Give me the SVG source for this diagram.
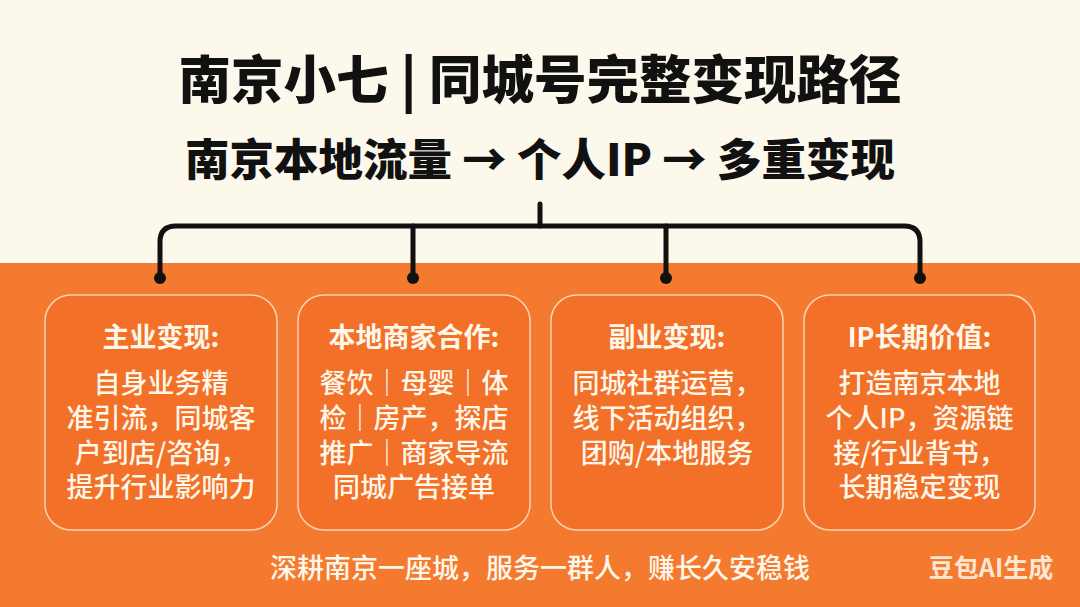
<svg xmlns="http://www.w3.org/2000/svg" width="1080" height="607" viewBox="0 0 1080 607">
<style>
.t{font-family:"Noto Sans CJK SC","Noto Sans",sans-serif;text-anchor:middle}
.title{font-size:52.5px;font-weight:900;fill:#111}
.sub{font-size:44.5px;font-weight:900;fill:#111}
.box{fill:#f27028;stroke:#fbd3b0;stroke-width:1.5}
.h{font-size:27px;font-weight:700;fill:#fff7ea}
.b{font-size:27px;font-weight:500;fill:#fff7ea}
.line{fill:none;stroke:#111;stroke-width:5;stroke-linecap:round;stroke-linejoin:round}
.dot{fill:#111}
</style>
<rect x="0" y="0" width="1080" height="263" fill="#fcf8ec"/>
<rect x="0" y="263" width="1080" height="344" fill="#f47a30"/>
<g id="title">
<text class="t title" x="540" y="99">南京小七 | 同城号完整变现路径</text>
<text class="t sub" x="540" y="176">南京本地流量 → 个人IP → 多重变现</text>
</g>
<g id="connectors">
<path class="line" d="M540 204 V226"/>
<path class="line" d="M160 278 V242 Q160 226 176 226 H904 Q920 226 920 242 V278"/>
<path class="line" d="M413 226 V278"/>
<path class="line" d="M666 226 V278"/>
<circle class="dot" cx="160" cy="278" r="6"/>
<circle class="dot" cx="413" cy="278" r="6"/>
<circle class="dot" cx="666" cy="278" r="6"/>
<circle class="dot" cx="920" cy="278" r="6"/>
</g>
<g id="node1">
<rect class="box" x="45" y="295" width="232" height="235" rx="26"/>
<text class="t h" x="161" y="347">主业变现:</text>
<text class="t b" x="161" y="393">自身业务精</text>
<text class="t b" x="161" y="428">准引流，同城客</text>
<text class="t b" x="161" y="463">户到店/咨询，</text>
<text class="t b" x="161" y="497">提升行业影响力</text>
</g>
<g id="node2">
<rect class="box" x="298" y="295" width="232" height="235" rx="26"/>
<text class="t h" x="414" y="347">本地商家合作:</text>
<text class="t b" x="414" y="393">餐饮｜母婴｜体</text>
<text class="t b" x="414" y="428">检｜房产，探店</text>
<text class="t b" x="414" y="463">推广｜商家导流</text>
<text class="t b" x="414" y="497">同城广告接单</text>
</g>
<g id="node3">
<rect class="box" x="551" y="295" width="232" height="235" rx="26"/>
<text class="t h" x="667" y="347">副业变现:</text>
<text class="t b" x="667" y="393">同城社群运营，</text>
<text class="t b" x="667" y="428">线下活动组织，</text>
<text class="t b" x="667" y="463">团购/本地服务</text>
</g>
<g id="node4">
<rect class="box" x="804" y="295" width="231" height="235" rx="26"/>
<text class="t h" x="919.5" y="347">IP长期价值:</text>
<text class="t b" x="919.5" y="393">打造南京本地</text>
<text class="t b" x="919.5" y="428">个人IP，资源链</text>
<text class="t b" x="919.5" y="463">接/行业背书，</text>
<text class="t b" x="919.5" y="497">长期稳定变现</text>
</g>
<g id="footer">
<text class="t" x="540" y="578" style="font-size:27px;font-weight:500;fill:#fff7ea">深耕南京一座城，服务一群人，赚长久安稳钱</text>
<text class="t" x="991" y="577" style="font-size:25px;font-weight:700;fill:#fde6d2">豆包AI生成</text>
</g>
</svg>
